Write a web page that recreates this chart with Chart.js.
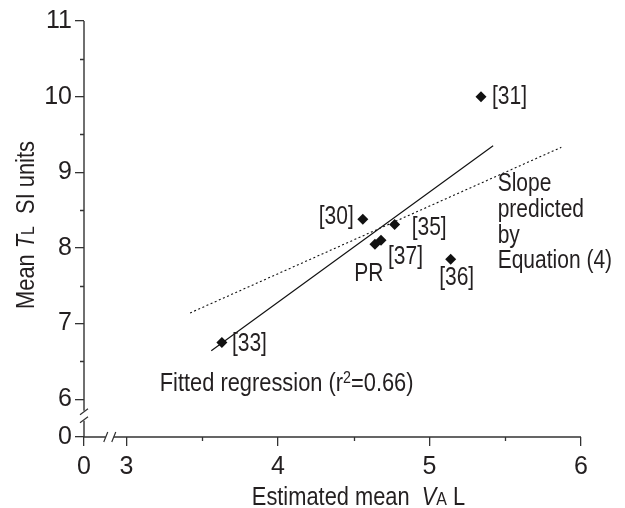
<!DOCTYPE html>
<html>
<head>
<meta charset="utf-8">
<title>Mean TL vs estimated mean VA</title>
<script src="https://cdn.jsdelivr.net/npm/chart.js@4.4.1/dist/chart.umd.min.js"></script>
<style>
  html, body { margin: 0; padding: 0; background: #fff; }
  #wrap { width: 625px; height: 508px; }
</style>
</head>
<body>
<div id="wrap"><canvas id="chart"></canvas></div>
<script>
// studies, estimated mean VA (L) and mean TL (SI units)
const studies = ['[31]', '[30]', '[35]', '[37]', 'PR', '[36]', '[33]'];
const meanVA = [5.34, 4.56, 4.77, 4.68, 4.64, 5.14, 3.63];
const meanTL = [10.0, 8.38, 8.31, 8.10, 8.05, 7.85, 6.75];

// fitted regression (r2=0.66) and slope predicted by equation (4)
const fitVA = [3.56, 5.42];
const fitTL = [6.64, 9.35];
const predVA = [3.42, 5.87];
const predTL = [7.14, 9.33];

// broken axes: the first tick stands for 0
const xTickValues = [2.72, 3, 4, 5, 6];
const xTickLabels = ['0', '3', '4', '5', '6'];
const xMinorTicks = [3.5, 4.5, 5.5];
const yTickValues = [5.5, 6, 7, 8, 9, 10, 11];
const yTickLabels = ['0', '6', '7', '8', '9', '10', '11'];
const yMinorTicks = [6.5, 7.5, 8.5, 9.5, 10.5];
const xBreakAt = 2.89;
const yBreakAt = 5.78;

const FONT = "'Liberation Sans', Arial, sans-serif";
const INK = '#231f20';
const SQUEEZE = 0.84; // no narrow face installed, so condense by hand

// where each study label sits relative to its marker (px)
const labelPlace = {
  '[31]': { dx: 11, dy: 0, align: 'left' },
  '[30]': { dx: -9, dy: -2, align: 'right' },
  '[35]': { dx: 17, dy: 4, align: 'left' },
  '[37]': { dx: 7, dy: 17, align: 'left' },
  'PR': { dx: -6, dy: 30, align: 'center' },
  '[36]': { dx: 6, dy: 19, align: 'center' },
  '[33]': { dx: 10, dy: 2, align: 'left' }
};

function narrowText(ctx, text, x, y, align) {
  ctx.save();
  ctx.translate(x, y);
  ctx.scale(SQUEEZE, 1);
  ctx.textAlign = align;
  ctx.fillText(text, 0, 0);
  ctx.restore();
}

// mixed-style text; anchor 'left' or 'center'
function drawRuns(ctx, runs, ax, baseY, anchor) {
  let total = 0;
  runs.forEach(r => { ctx.font = r.font; r.w = ctx.measureText(r.text).width * SQUEEZE; total += r.w; });
  let x = anchor === 'center' ? ax - total / 2 : ax;
  ctx.textBaseline = 'alphabetic';
  runs.forEach(r => {
    ctx.font = r.font;
    narrowText(ctx, r.text, x, baseY + (r.dy || 0), 'left');
    x += r.w;
  });
}

const axisBits = {
  id: 'axisBits',
  afterDraw(chart) {
    const { ctx, chartArea: a, scales: { x, y } } = chart;
    ctx.save();
    ctx.strokeStyle = '#333';
    ctx.lineWidth = 1.4;

    // axis lines with breaks
    const bx = x.getPixelForValue(xBreakAt);
    const by = y.getPixelForValue(yBreakAt);
    ctx.beginPath();
    ctx.moveTo(a.left, a.top); ctx.lineTo(a.left, by - 5);
    ctx.moveTo(a.left, by + 5); ctx.lineTo(a.left, a.bottom);
    ctx.moveTo(a.left, a.bottom); ctx.lineTo(bx - 4, a.bottom);
    ctx.moveTo(bx + 4, a.bottom); ctx.lineTo(a.right, a.bottom);
    ctx.stroke();

    ctx.lineWidth = 1.2;
    ctx.beginPath();
    [-4, 4].forEach(o => {
      ctx.moveTo(a.left - 4, by + o + 3); ctx.lineTo(a.left + 4, by + o - 3);
      ctx.moveTo(bx + o - 2, a.bottom + 5); ctx.lineTo(bx + o + 2, a.bottom - 5);
    });
    ctx.stroke();

    // minor ticks
    ctx.lineWidth = 1.3;
    ctx.beginPath();
    xMinorTicks.forEach(v => {
      const px = Math.round(x.getPixelForValue(v)) + 0.5;
      ctx.moveTo(px, a.bottom); ctx.lineTo(px, a.bottom + 4);
    });
    yMinorTicks.forEach(v => {
      const py = Math.round(y.getPixelForValue(v)) + 0.5;
      ctx.moveTo(a.left - 4, py); ctx.lineTo(a.left, py);
    });
    ctx.stroke();

    ctx.fillStyle = INK;

    // study labels
    const pts = chart.getDatasetMeta(0).data;
    ctx.font = '25px ' + FONT;
    ctx.textBaseline = 'middle';
    studies.forEach((s, i) => {
      const p = labelPlace[s];
      narrowText(ctx, s, pts[i].x + p.dx, pts[i].y + p.dy, p.align);
    });

    // annotations
    ctx.textBaseline = 'alphabetic';
    const nx = x.getPixelForValue(5.45);
    const ny = y.getPixelForValue(8.75);
    ['Slope', 'predicted', 'by', 'Equation (4)'].forEach((t, i) => {
      narrowText(ctx, t, nx, ny + i * 25.7, 'left');
    });

    drawRuns(ctx, [
      { text: 'Fitted regression (r', font: '26px ' + FONT },
      { text: '2', font: '17px ' + FONT, dy: -8 },
      { text: '=0.66)', font: '26px ' + FONT }
    ], x.getPixelForValue(3.22), y.getPixelForValue(6.106), 'left');

    // axis titles
    const big = '26px ' + FONT;
    drawRuns(ctx, [
      { text: 'Estimated mean  ', font: big },
      { text: 'V', font: 'italic ' + big },
      { text: 'A', font: '19px ' + FONT },
      { text: ' L', font: big }
    ], (a.left + a.right) / 2 + 26, 505, 'center');

    ctx.translate(34, (a.top + a.bottom) / 2 - 4);
    ctx.rotate(-Math.PI / 2);
    drawRuns(ctx, [
      { text: 'Mean ', font: big },
      { text: 'T', font: 'italic ' + big },
      { text: 'L', font: '19px ' + FONT },
      { text: '  SI units', font: big }
    ], 0, 0, 'center');

    ctx.restore();
  }
};

const tickFont = { family: FONT, size: 25 };

new Chart(document.getElementById('chart'), {
  type: 'scatter',
  data: {
    datasets: [
      {
        label: 'Studies',
        data: meanVA.map((v, i) => ({ x: v, y: meanTL[i] })),
        pointStyle: 'rectRot',
        pointRadius: 5.5,
        backgroundColor: '#111',
        borderWidth: 0
      },
      {
        label: 'Fitted regression',
        data: fitVA.map((v, i) => ({ x: v, y: fitTL[i] })),
        showLine: true,
        borderColor: '#111',
        borderWidth: 1.2,
        pointRadius: 0
      },
      {
        label: 'Slope predicted by Equation (4)',
        data: predVA.map((v, i) => ({ x: v, y: predTL[i] })),
        showLine: true,
        borderColor: '#111',
        borderWidth: 1.1,
        borderDash: [2, 2.5],
        pointRadius: 0
      }
    ]
  },
  options: {
    responsive: true,
    maintainAspectRatio: false,
    animation: false,
    layout: { padding: { top: 21, right: 44, left: 0, bottom: 0 } },
    plugins: { legend: { display: false }, tooltip: { enabled: false } },
    scales: {
      x: {
        type: 'linear',
        min: xTickValues[0],
        max: 6,
        afterBuildTicks: s => { s.ticks = xTickValues.map(v => ({ value: v })); },
        afterFit: s => { s.height = 71; },
        border: { display: false },
        grid: { drawOnChartArea: false, tickLength: 9, color: '#333', lineWidth: 1.3 },
        ticks: {
          autoSkip: false, maxRotation: 0, padding: 6, color: INK, font: tickFont,
          callback: (v, i) => xTickLabels[i]
        }
      },
      y: {
        type: 'linear',
        min: yTickValues[0],
        max: 11,
        afterBuildTicks: s => { s.ticks = yTickValues.map(v => ({ value: v })); },
        afterFit: s => { s.width = 84; },
        border: { display: false },
        grid: { drawOnChartArea: false, tickLength: 9, color: '#333', lineWidth: 1.3 },
        ticks: {
          autoSkip: false, padding: 3, color: INK, font: tickFont,
          callback: (v, i) => yTickLabels[i]
        }
      }
    }
  },
  plugins: [axisBits]
});
</script>
</body>
</html>
